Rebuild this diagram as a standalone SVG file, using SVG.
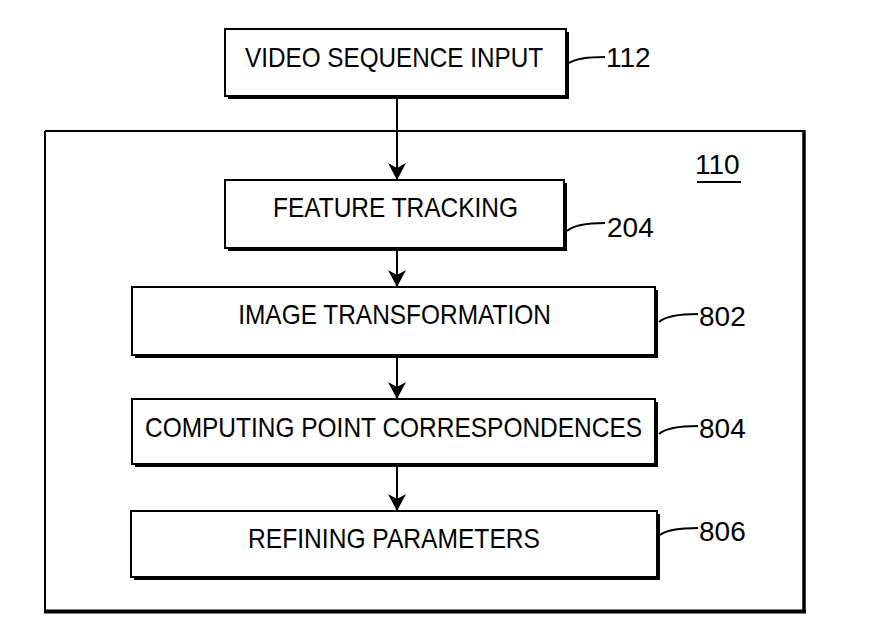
<svg xmlns="http://www.w3.org/2000/svg" width="893" height="633" viewBox="0 0 893 633">
<style>
  .box { fill: #fff; stroke: #000; stroke-width: 2; }
  .shadow { fill: #000; }
  .t { font-family: "Liberation Sans", Arial, sans-serif; font-size: 28px; fill: #000; text-anchor: middle; }
  .num { font-family: "Liberation Sans", Arial, sans-serif; font-size: 28px; fill: #000; }
  .conn { stroke: #000; stroke-width: 2; fill: none; }
  .lead { stroke: #000; stroke-width: 1.8; fill: none; }
</style>
<defs>
  <marker id="arr" markerWidth="18" markerHeight="18" refX="17" refY="9" orient="auto" markerUnits="userSpaceOnUse" viewBox="0 0 18 18">
    <path d="M0,0 L5,9 L0,18 L17,9 Z" fill="#000"/>
  </marker>
</defs>
<rect width="893" height="633" fill="#fff"/>

<g id="n110">
  <path d="M45,131 L804,131" stroke="#000" stroke-width="2"/>
  <path d="M45,131 L45,612" stroke="#000" stroke-width="2"/>
  <path d="M804,130 L804,613" stroke="#000" stroke-width="3.5"/>
  <path d="M44,611.5 L806,611.5" stroke="#000" stroke-width="4"/>
  <text class="num" x="695" y="174">110</text>
  <path d="M697,182 L741,182" stroke="#000" stroke-width="2"/>
</g>

<g id="connectors">
  <path class="conn" d="M397,96 L397,180" marker-end="url(#arr)"/>
  <path class="conn" d="M397,248 L397,287" marker-end="url(#arr)"/>
  <path class="conn" d="M397,355 L397,399" marker-end="url(#arr)"/>
  <path class="conn" d="M397,464 L397,511" marker-end="url(#arr)"/>
</g>

<g id="n112">
  <rect class="shadow" x="228" y="32" width="341" height="67"/>
  <rect class="box" x="225" y="29" width="341" height="67"/>
  <text class="t" transform="translate(394,67) scale(0.866,1)" textLength="344" lengthAdjust="spacingAndGlyphs">VIDEO SEQUENCE INPUT</text>
  <path class="lead" d="M569,63 Q578,57 605,57"/>
  <text class="num" x="606" y="67">112</text>
</g>

<g id="n204">
  <rect class="shadow" x="228" y="183" width="339" height="68"/>
  <rect class="box" x="225" y="180" width="339" height="68"/>
  <text class="t" transform="translate(395.5,217) scale(0.866,1)" textLength="283" lengthAdjust="spacingAndGlyphs">FEATURE TRACKING</text>
  <path class="lead" d="M567,231 Q576,223 605,223"/>
  <text class="num" x="607" y="237">204</text>
</g>

<g id="n802">
  <rect class="shadow" x="135" y="290" width="523" height="68"/>
  <rect class="box" x="132" y="287" width="523" height="68"/>
  <text class="t" transform="translate(394.5,324) scale(0.866,1)" textLength="361" lengthAdjust="spacingAndGlyphs">IMAGE TRANSFORMATION</text>
  <path class="lead" d="M659,322 Q668,314 698,314"/>
  <text class="num" x="699" y="326">802</text>
</g>

<g id="n804">
  <rect class="shadow" x="135" y="402" width="523" height="65"/>
  <rect class="box" x="132" y="399" width="523" height="65"/>
  <text class="t" transform="translate(393.5,437) scale(0.866,1)" textLength="574" lengthAdjust="spacingAndGlyphs">COMPUTING POINT CORRESPONDENCES</text>
  <path class="lead" d="M659,434 Q668,426 698,426"/>
  <text class="num" x="699" y="438">804</text>
</g>

<g id="n806">
  <rect class="shadow" x="134" y="514" width="526" height="66"/>
  <rect class="box" x="131" y="511" width="526" height="66"/>
  <text class="t" transform="translate(394,548) scale(0.866,1)" textLength="337" lengthAdjust="spacingAndGlyphs">REFINING PARAMETERS</text>
  <path class="lead" d="M660,535 Q669,528 698,528"/>
  <text class="num" x="699" y="541">806</text>
</g>
</svg>
